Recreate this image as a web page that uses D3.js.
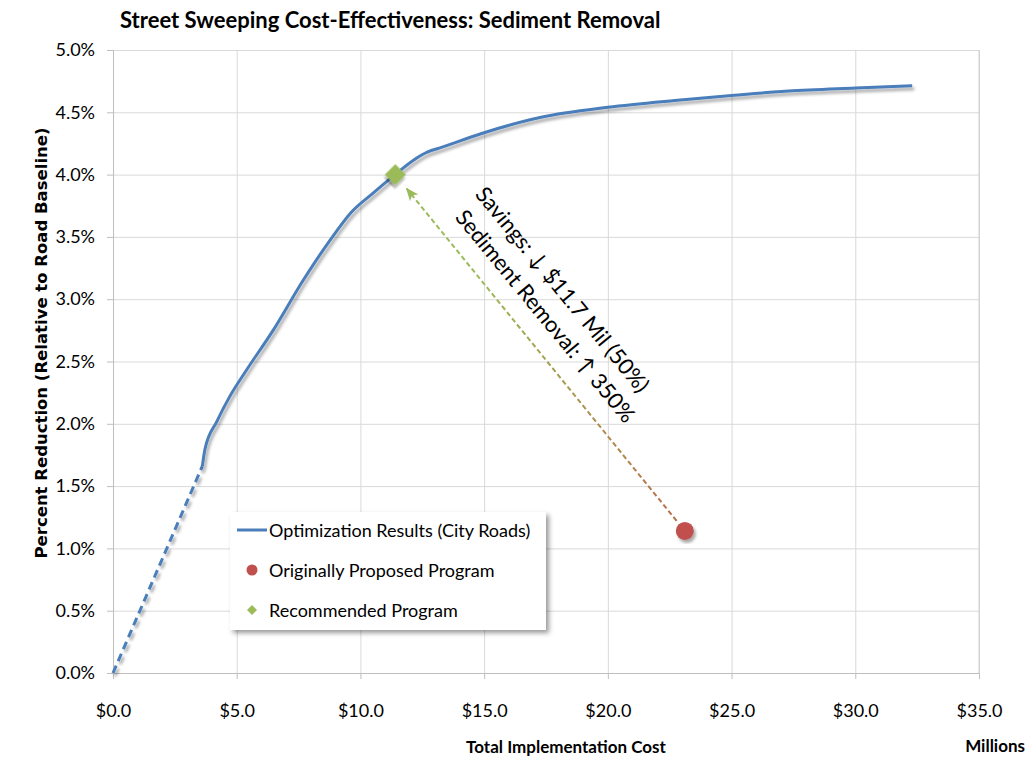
<!DOCTYPE html>
<html>
<head>
<meta charset="utf-8">
<script src="https://cdn.jsdelivr.net/npm/d3@7"></script>
<style>
  body { margin: 0; background: #fff; }
  text { font-family: Lato, "Open Sans", sans-serif; fill: #000; }
</style>
</head>
<body>
<div id="chart"></div>
<script>
const margin = {top: 50, right: 57, bottom: 87, left: 113}
const width = 1036 - margin.left - margin.right
const height = 760 - margin.top - margin.bottom

// optimization curve (cost in $ millions, reduction in %)
const curveCost = [3.61, 3.72, 4.2, 4.72, 5.39, 6.47, 7.68, 8.76, 9.64, 10.5, 11.4, 12.1, 12.7, 13.3, 14.9, 17.3, 20.0, 22.7, 25.0, 27.3, 30.0, 32.3]
const curvePct  = [1.66, 1.80, 2.02, 2.22, 2.43, 2.75, 3.15, 3.47, 3.70, 3.85, 4.00, 4.11, 4.18, 4.22, 4.33, 4.46, 4.54, 4.595, 4.635, 4.67, 4.695, 4.714]
// dashed extension to the origin
const dashCost = [0, 3.61]
const dashPct  = [0, 1.66]

const originalProgram = {cost: 23.11, pct: 1.14}
const recommendedProgram = {cost: 11.41, pct: 4.0}

const xTicks = [0, 5, 10, 15, 20, 25, 30, 35]
const yTicks = [0, 0.5, 1, 1.5, 2, 2.5, 3, 3.5, 4, 4.5, 5]

const legendLabels = ["Optimization Results (City Roads)", "Originally Proposed Program", "Recommended Program"]
const noteLines = ["Savings: \u2193 $11.7 Mil (50%)", "Sediment Removal: \u2191 350%"]
const noteAnchor = [15.1, 3.92]   // where the note starts (data coords)

const blue = "#4a7ebb", red = "#c0504d", green = "#9bbb59"

var x = d3.scaleLinear().domain([0, 35]).range([0, width])
var y = d3.scaleLinear().domain([0, 5]).range([height, 0])

var root = d3.select("#chart").append("svg")
  .attr("width", 1036)
  .attr("height", 760)

var defs = root.append("defs")
defs.append("filter").attr("id", "shadow")
  .attr("x", "-20%").attr("y", "-20%").attr("width", "140%").attr("height", "140%")
  .append("feDropShadow")
  .attr("dx", 2).attr("dy", 3).attr("stdDeviation", 1.8)
  .attr("flood-color", "#000").attr("flood-opacity", 0.35)
defs.append("filter").attr("id", "boxshadow")
  .attr("x", "-10%").attr("y", "-10%").attr("width", "130%").attr("height", "130%")
  .append("feDropShadow")
  .attr("dx", 3).attr("dy", 3).attr("stdDeviation", 2.5)
  .attr("flood-color", "#000").attr("flood-opacity", 0.4)
defs.append("marker").attr("id", "arrowhead")
  .attr("markerUnits", "userSpaceOnUse")
  .attr("viewBox", "0 0 12 10")
  .attr("refX", 11).attr("refY", 5)
  .attr("markerWidth", 13).attr("markerHeight", 11)
  .attr("orient", "auto")
  .append("path")
  .attr("d", "M0,0 L12,5 L0,10 L3,5 Z")
  .attr("fill", green)

var svg = root.append("g")
  .attr("transform", "translate(" + margin.left + "," + margin.top + ")")

// title
root.append("text")
  .attr("x", 120).attr("y", 28)
  .style("font-size", "22px").style("font-weight", "bold")
  .text("Street Sweeping Cost-Effectiveness: Sediment Removal")

// grids
svg.append("g")
  .attr("transform", "translate(0," + height + ")")
  .call(d3.axisBottom(x).tickValues(xTicks).tickSize(-height).tickFormat(""))
  .call(g => g.select(".domain").remove())
  .call(g => g.selectAll("line").attr("stroke", "#d9d9d9"))
svg.append("g")
  .call(d3.axisLeft(y).tickValues(yTicks).tickSize(-width).tickFormat(""))
  .call(g => g.select(".domain").remove())
  .call(g => g.selectAll("line").attr("stroke", "#d9d9d9"))
svg.append("line").attr("x1", width).attr("x2", width).attr("y1", 0).attr("y2", height).attr("stroke", "#d0d0d0")

// axes
svg.append("g")
  .attr("transform", "translate(0," + height + ")")
  .call(d3.axisBottom(x).tickValues(xTicks).tickSize(6).tickPadding(25).tickFormat(d => "$" + d.toFixed(1)))
  .call(g => g.selectAll("line, path").attr("stroke", "#bfbfbf"))
  .call(g => g.selectAll("text").style("font-size", "18px").style("font-family", "Lato, sans-serif").attr("fill", "#000"))
svg.append("g")
  .call(d3.axisLeft(y).tickValues(yTicks).tickSize(6).tickPadding(12).tickFormat(d => d.toFixed(1) + "%"))
  .call(g => g.selectAll("line, path").attr("stroke", "#bfbfbf"))
  .call(g => g.selectAll("text").style("font-size", "18px").style("font-family", "Lato, sans-serif").attr("fill", "#000"))

// axis titles
root.append("text")
  .attr("x", 566).attr("y", 753)
  .attr("text-anchor", "middle")
  .style("font-size", "17px").style("font-weight", "bold")
  .text("Total Implementation Cost")
root.append("text")
  .attr("x", 1025).attr("y", 752)
  .attr("text-anchor", "end")
  .style("font-size", "17px").style("font-weight", "bold")
  .text("Millions")
root.append("text")
  .attr("transform", "translate(47,343) rotate(-90)")
  .attr("text-anchor", "middle")
  .style("font-family", "'DejaVu Sans', Verdana, sans-serif")
  .style("font-size", "16.5px").style("font-weight", "bold")
  .text("Percent Reduction (Relative to Road Baseline)")

// curve
var line = d3.line()
  .curve(d3.curveMonotoneX)
  .x(function(d) { return x(d[0]) })
  .y(function(d) { return y(d[1]) })

svg.append("path")
  .datum(d3.zip(dashCost, dashPct))
  .attr("fill", "none")
  .attr("stroke", blue)
  .attr("stroke-width", 3)
  .attr("stroke-dasharray", "8,5")
  .attr("filter", "url(#shadow)")
  .attr("d", line)

svg.append("path")
  .datum(d3.zip(curveCost, curvePct))
  .attr("fill", "none")
  .attr("stroke", blue)
  .attr("stroke-width", 3)
  .attr("stroke-linejoin", "round")
  .attr("filter", "url(#shadow)")
  .attr("d", line)

// arrow from original to recommended
var p1 = [x(originalProgram.cost), y(originalProgram.pct)]
var p2 = [x(recommendedProgram.cost), y(recommendedProgram.pct)]
var len = Math.hypot(p2[0] - p1[0], p2[1] - p1[1])
var u = [(p2[0] - p1[0]) / len, (p2[1] - p1[1]) / len]
var a0 = [p1[0] + u[0] * 13, p1[1] + u[1] * 13]
var a1 = [p2[0] - u[0] * 18, p2[1] - u[1] * 18]

var grad = defs.append("linearGradient").attr("id", "arrowgrad")
  .attr("gradientUnits", "userSpaceOnUse")
  .attr("x1", a0[0] + margin.left).attr("y1", a0[1] + margin.top)
  .attr("x2", a1[0] + margin.left).attr("y2", a1[1] + margin.top)
grad.append("stop").attr("offset", "0%").attr("stop-color", red)
grad.append("stop").attr("offset", "50%").attr("stop-color", "#b08a4a")
grad.append("stop").attr("offset", "100%").attr("stop-color", green)

svg.append("line")
  .attr("x1", a0[0]).attr("y1", a0[1])
  .attr("x2", a1[0]).attr("y2", a1[1])
  .attr("stroke", "url(#arrowgrad)")
  .attr("stroke-width", 2)
  .attr("stroke-dasharray", "5,3")
  .attr("marker-end", "url(#arrowhead)")

// points
svg.append("circle")
  .attr("cx", x(originalProgram.cost))
  .attr("cy", y(originalProgram.pct))
  .attr("r", 9)
  .attr("fill", red)
  .attr("filter", "url(#shadow)")

svg.append("path")
  .attr("d", d3.symbol().type(d3.symbolSquare).size(220)())
  .attr("transform", "translate(" + x(recommendedProgram.cost) + "," + y(recommendedProgram.pct) + ") rotate(45)")
  .attr("fill", green)
  .attr("filter", "url(#shadow)")

// note
var note = svg.append("g")
  .attr("transform", "translate(" + x(noteAnchor[0]) + "," + y(noteAnchor[1]) + ") rotate(50.5)")
note.selectAll("text")
  .data(noteLines)
  .enter().append("text")
  .attr("x", (d, i) => i * 5)
  .attr("y", (d, i) => 16 + i * 30)
  .style("font-size", "22px")
  .text(d => d)

// legend
var legend = root.append("g").attr("transform", "translate(230,512)")
legend.append("rect")
  .attr("width", 316).attr("height", 118)
  .attr("fill", "#fff")
  .attr("filter", "url(#boxshadow)")
var items = legend.selectAll(".item")
  .data(legendLabels)
  .enter().append("g")
  .attr("transform", (d, i) => "translate(0," + (18 + i * 40) + ")")
items.append("text")
  .attr("x", 39).attr("y", 7)
  .style("font-size", "18px")
  .text(d => d)
items.filter((d, i) => i == 0).append("line")
  .attr("x1", 7).attr("x2", 37)
  .attr("stroke", blue).attr("stroke-width", 3)
items.filter((d, i) => i == 1).append("circle")
  .attr("cx", 22).attr("r", 5.5).attr("fill", red)
items.filter((d, i) => i == 2).append("path")
  .attr("transform", "translate(22,0) rotate(45)")
  .attr("d", d3.symbol().type(d3.symbolSquare).size(50)())
  .attr("fill", green)
</script>
</body>
</html>
